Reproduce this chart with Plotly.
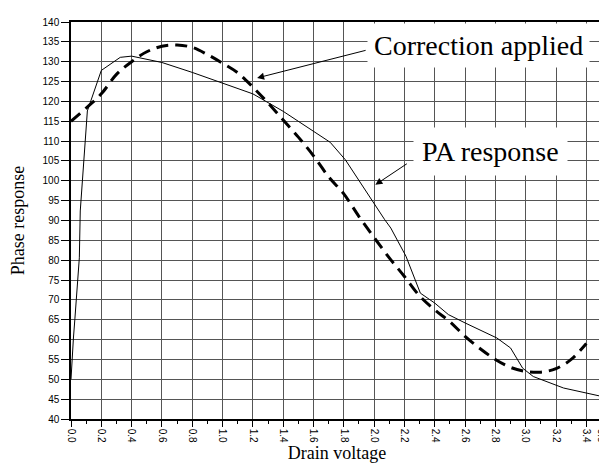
import plotly.graph_objects as go

# ---- data ----
pa_x = [0.0, 0.006, 0.016, 0.026, 0.043, 0.055, 0.061, 0.09, 0.108, 0.2, 0.325, 0.4,
        0.6, 0.8, 1.0, 1.2, 1.4, 1.6, 1.71, 1.81, 1.93, 2.07, 2.11, 2.21, 2.305, 2.4,
        2.49, 2.6, 2.81, 2.9, 2.98, 3.05, 3.25, 3.5]
pa_y = [50.0, 55.4, 60.4, 65.4, 75.3, 80.6, 92.4, 108.3, 117.6, 127.8, 131.1, 131.4,
        129.8, 127.3, 124.6, 121.9, 117.5, 112.5, 109.7, 105.3, 98.2, 90.2, 88.1, 81.0,
        71.7, 69.2, 66.3, 64.2, 60.4, 57.9, 52.8, 50.7, 47.8, 45.7]

corr_x = [0.0, 0.1, 0.2, 0.3, 0.4, 0.5, 0.6, 0.7, 0.8, 0.9, 1.0, 1.1, 1.2, 1.3, 1.4,
          1.5, 1.6, 1.7, 1.8, 1.9, 2.0, 2.1, 2.2, 2.3, 2.4, 2.5, 2.6, 2.7, 2.8, 2.9,
          3.0, 3.1, 3.2, 3.3, 3.4]
corr_y = [115.0, 118.3, 121.9, 126.8, 130.0, 132.5, 133.9, 134.2, 133.6, 131.8, 129.6,
          127.2, 123.6, 119.6, 115.3, 111.0, 106.3, 101.0, 96.7, 91.0, 85.7, 80.6,
          75.9, 71.0, 67.5, 64.5, 60.8, 57.7, 55.0, 53.0, 52.0, 51.8, 52.7, 55.0, 59.0]

x_tick_vals = [0.0, 0.2, 0.4, 0.6, 0.8, 1.0, 1.2, 1.4, 1.6, 1.8, 2.0, 2.2, 2.4, 2.6,
               2.8, 3.0, 3.2, 3.4, 3.5]
x_tick_text = ["0.0", "0.2", "0.4", "0.6", "0.8", "1.0", "1.2", "1.4", "1.6", "1.8",
               "2.0", "2.2", "2.4", "2.6", "2.8", "3.0", "3.2", "3.4", "3.5"]
y_tick_vals = list(range(40, 141, 5))

fig = go.Figure()
fig.add_trace(go.Scatter(x=pa_x, y=pa_y, mode="lines", name="PA response",
                         line=dict(color="black", width=1)))
fig.add_trace(go.Scatter(x=corr_x, y=corr_y, mode="lines", name="Correction applied",
                         line=dict(color="black", width=3, dash="12px,7px", shape="spline")))

serif = "Liberation Serif, Times New Roman, serif"
sans = "Liberation Sans, Arial, sans-serif"

# arrows (no text) and labels with white boxes
fig.add_annotation(x=1.228, y=125.9, xref="x", yref="y", text="", showarrow=True,
                   ax=110, ay=-28, arrowhead=2, arrowsize=1.4, arrowwidth=1,
                   arrowcolor="black")
fig.add_annotation(x=2.687, y=134.0, xref="x", yref="y", text="Correction applied",
                   showarrow=False, bgcolor="white", borderpad=6,
                   font=dict(family=serif, size=28, color="black"))
fig.add_annotation(x=2.008, y=99.0, xref="x", yref="y", text="", showarrow=True,
                   ax=33, ay=-22, arrowhead=2, arrowsize=1.4, arrowwidth=1,
                   arrowcolor="black")
fig.add_annotation(x=2.765, y=107.4, xref="x", yref="y", text="PA response",
                   showarrow=False, bgcolor="white", borderpad=8,
                   font=dict(family=serif, size=28, color="black"))

fig.update_layout(
    width=607, height=464,
    margin=dict(l=63, r=8, t=14, b=53),
    paper_bgcolor="white", plot_bgcolor="white",
    showlegend=False,
    font=dict(family=sans, size=10, color="black"),
)
fig.update_xaxes(
    range=[0, 3.51], tickmode="array", tickvals=x_tick_vals, ticktext=x_tick_text,
    tickangle=90, ticks="outside", ticklen=6, tickcolor="black",
    ticklabeloverflow="allow",
    showgrid=True, gridcolor="#555", gridwidth=1, zeroline=False,
    showline=True, linecolor="black", linewidth=1.5, mirror=True,
    minor=dict(dtick=0.1, tick0=0, ticks="outside", ticklen=3, tickcolor="black",
               showgrid=False),
    title=dict(text="Drain voltage", font=dict(family=serif, size=18, color="black"),
               standoff=2),
)
fig.update_yaxes(
    range=[40, 140], tickmode="array", tickvals=y_tick_vals,
    ticks="outside", ticklen=8, tickcolor="black",
    showgrid=True, gridcolor="#555", gridwidth=1, zeroline=False,
    showline=True, linecolor="black", linewidth=1.5, mirror=True,
    title=dict(text="Phase response", font=dict(family=serif, size=18, color="black"),
               standoff=14),
)

fig.write_html("out.html")
